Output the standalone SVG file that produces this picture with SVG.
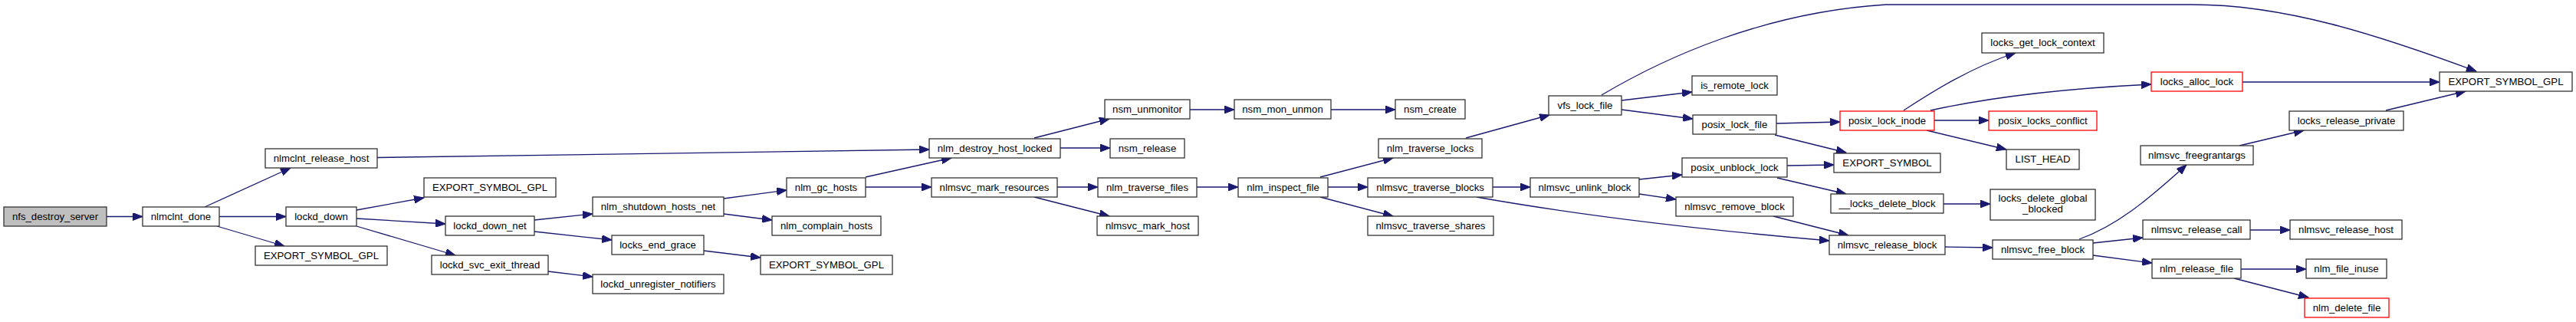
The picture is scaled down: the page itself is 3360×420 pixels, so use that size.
<svg xmlns="http://www.w3.org/2000/svg" width="3360" height="420" viewBox="0 0 3360 420">
<style>
rect{fill:#ffffff;stroke:#333333;stroke-width:1.3}
rect.root{fill:#bfbfbf}
rect.trunc{stroke:#ff0000}
text{font-family:"Liberation Sans",Arial,sans-serif;font-size:13.2px;fill:#000000;text-anchor:middle}
#edges path{fill:none;stroke:#191970;stroke-width:1.3;marker-end:url(#ah)}
</style>
<defs>
<marker id="ah" markerUnits="userSpaceOnUse" markerWidth="14" markerHeight="10" refX="13" refY="5" orient="auto">
<path d="M0,0 L13,5 L0,10 z" fill="#191970" stroke="#191970" stroke-width="1"/>
</marker>
</defs>
<rect x="0" y="0" width="3360" height="420" style="fill:#ffffff;stroke:none"/>
<g id="edges">
<path d="M139,282.5 L186,282.5"/>
<path d="M267,270 L379,219"/>
<path d="M286,282.5 L373,282.5"/>
<path d="M283,295 L371,321"/>
<path d="M492,205.5 C700,203 950,198 1212,195"/>
<path d="M465,274 L553,258"/>
<path d="M465,285 L581,292"/>
<path d="M465,295 L594,333"/>
<path d="M697,287 L773,279"/>
<path d="M697,302 L798,313"/>
<path d="M715,354 L773,361"/>
<path d="M944,259 L1026,248"/>
<path d="M944,279 L1007,287"/>
<path d="M918,327 L992,336"/>
<path d="M1129,231 L1241,206"/>
<path d="M1129,244 L1215,244"/>
<path d="M1349,180 L1447,155"/>
<path d="M1383,193 L1448,193"/>
<path d="M1552,143 L1610,143"/>
<path d="M1736,143 L1820,143"/>
<path d="M1379,244 L1432,244"/>
<path d="M1349,257 L1447,282"/>
<path d="M1561,244 L1615,244"/>
<path d="M1722,231 L1817,206"/>
<path d="M1732,244 L1784,244"/>
<path d="M1722,257 L1817,282"/>
<path d="M1912,180 L2021,150"/>
<path d="M1947,244 L1996,244"/>
<path d="M1926,257 C2050,279 2200,298 2386,314"/>
<path d="M2138,234 L2194,228"/>
<path d="M2138,253 L2186,260"/>
<path d="M2089,124 C2170,76 2300,16 2460,6 L2860,6 C2980,6 3100,45 3230,93"/>
<path d="M2115,131 L2207,120"/>
<path d="M2115,143 L2208,155"/>
<path d="M2317,161 L2400,159"/>
<path d="M2315,176 L2408,199"/>
<path d="M2331,216 L2392,215"/>
<path d="M2318,232 L2408,253"/>
<path d="M2313,282 L2411,307"/>
<path d="M2483,144 C2520,120 2570,88 2629,69"/>
<path d="M2518,144 C2600,126 2700,115 2806,110"/>
<path d="M2523,157 L2594,157"/>
<path d="M2513,170 L2617,195"/>
<path d="M2535,266 L2596,266"/>
<path d="M2537,322 L2599,323"/>
<path d="M2712,312 C2760,295 2800,262 2852,215"/>
<path d="M2730,317 L2795,310"/>
<path d="M2730,333 L2807,343"/>
<path d="M2925,107 L3182,107"/>
<path d="M2921,190 L3005,170"/>
<path d="M3112,144 L3216,119"/>
<path d="M2935,300 L2987,300"/>
<path d="M2923,351 L3008,351"/>
<path d="M2914,363 L3011,388"/>
</g>
<g id="n0"><rect class="root" x="5" y="270" width="134" height="25"/><text x="72" y="287">nfs_destroy_server</text></g>
<g id="n1"><rect x="186" y="270" width="100" height="25"/><text x="236" y="287">nlmclnt_done</text></g>
<g id="n2"><rect x="346" y="194" width="146" height="25"/><text x="419" y="211">nlmclnt_release_host</text></g>
<g id="n3"><rect x="373" y="270" width="92" height="25"/><text x="419" y="287">lockd_down</text></g>
<g id="n4"><rect x="333" y="321" width="172" height="25"/><text x="419" y="338">EXPORT_SYMBOL_GPL</text></g>
<g id="n5"><rect x="553" y="232" width="172" height="25"/><text x="639" y="249">EXPORT_SYMBOL_GPL</text></g>
<g id="n6"><rect x="581" y="282" width="116" height="25"/><text x="639" y="299">lockd_down_net</text></g>
<g id="n7"><rect x="563" y="333" width="152" height="25"/><text x="639" y="350">lockd_svc_exit_thread</text></g>
<g id="n8"><rect x="773" y="257" width="171" height="25"/><text x="858.5" y="274">nlm_shutdown_hosts_net</text></g>
<g id="n9"><rect x="798" y="307" width="120" height="25"/><text x="858" y="324">locks_end_grace</text></g>
<g id="n10"><rect x="773" y="358" width="171" height="25"/><text x="858.5" y="375">lockd_unregister_notifiers</text></g>
<g id="n11"><rect x="1026" y="232" width="103" height="25"/><text x="1077.5" y="249">nlm_gc_hosts</text></g>
<g id="n12"><rect x="1007" y="282" width="142" height="25"/><text x="1078" y="299">nlm_complain_hosts</text></g>
<g id="n13"><rect x="992" y="333" width="172" height="25"/><text x="1078" y="350">EXPORT_SYMBOL_GPL</text></g>
<g id="n14"><rect x="1212" y="181" width="171" height="25"/><text x="1297.5" y="198">nlm_destroy_host_locked</text></g>
<g id="n15"><rect x="1215" y="232" width="164" height="25"/><text x="1297" y="249">nlmsvc_mark_resources</text></g>
<g id="n16"><rect x="1441" y="130" width="111" height="25"/><text x="1496.5" y="147">nsm_unmonitor</text></g>
<g id="n17"><rect x="1448" y="181" width="97" height="25"/><text x="1496.5" y="198">nsm_release</text></g>
<g id="n18"><rect x="1432" y="232" width="129" height="25"/><text x="1496.5" y="249">nlm_traverse_files</text></g>
<g id="n19"><rect x="1431" y="282" width="132" height="25"/><text x="1497" y="299">nlmsvc_mark_host</text></g>
<g id="n20"><rect x="1610" y="130" width="126" height="25"/><text x="1673" y="147">nsm_mon_unmon</text></g>
<g id="n21"><rect x="1615" y="232" width="117" height="25"/><text x="1673.5" y="249">nlm_inspect_file</text></g>
<g id="n22"><rect x="1820" y="130" width="91" height="25"/><text x="1865.5" y="147">nsm_create</text></g>
<g id="n23"><rect x="1798" y="181" width="135" height="25"/><text x="1865.5" y="198">nlm_traverse_locks</text></g>
<g id="n24"><rect x="1784" y="232" width="163" height="25"/><text x="1865.5" y="249">nlmsvc_traverse_blocks</text></g>
<g id="n25"><rect x="1784" y="282" width="164" height="25"/><text x="1866" y="299">nlmsvc_traverse_shares</text></g>
<g id="n26"><rect x="2020" y="125" width="95" height="25"/><text x="2067.5" y="142">vfs_lock_file</text></g>
<g id="n27"><rect x="1996" y="232" width="142" height="25"/><text x="2067" y="249">nlmsvc_unlink_block</text></g>
<g id="n28"><rect x="2207" y="99" width="111" height="25"/><text x="2262.5" y="116">is_remote_lock</text></g>
<g id="n29"><rect x="2208" y="150" width="109" height="25"/><text x="2262.5" y="167">posix_lock_file</text></g>
<g id="n30"><rect x="2194" y="206" width="137" height="25"/><text x="2262.5" y="223">posix_unblock_lock</text></g>
<g id="n31"><rect x="2186" y="257" width="153" height="25"/><text x="2262.5" y="274">nlmsvc_remove_block</text></g>
<g id="n32"><rect class="trunc" x="2400" y="145" width="123" height="25"/><text x="2461.5" y="162">posix_lock_inode</text></g>
<g id="n33"><rect x="2392" y="200" width="139" height="25"/><text x="2461.5" y="217">EXPORT_SYMBOL</text></g>
<g id="n34"><rect x="2388" y="253" width="147" height="25"/><text x="2461.5" y="270">__locks_delete_block</text></g>
<g id="n35"><rect x="2386" y="307" width="151" height="25"/><text x="2461.5" y="324">nlmsvc_release_block</text></g>
<g id="n36"><rect x="2585" y="43" width="159" height="26"/><text x="2664.5" y="60">locks_get_lock_context</text></g>
<g id="n37"><rect class="trunc" x="2594" y="145" width="141" height="25"/><text x="2664.5" y="162">posix_locks_conflict</text></g>
<g id="n38"><rect x="2617" y="195" width="95" height="26"/><text x="2664.5" y="212">LIST_HEAD</text></g>
<g id="n39"><rect x="2596" y="247" width="137" height="40"/><text x="2664.5" y="263">locks_delete_global</text><text x="2664.5" y="277">_blocked</text></g>
<g id="n40"><rect x="2599" y="313" width="131" height="25"/><text x="2664.5" y="330">nlmsvc_free_block</text></g>
<g id="n41"><rect class="trunc" x="2806" y="94" width="119" height="25"/><text x="2865.5" y="111">locks_alloc_lock</text></g>
<g id="n42"><rect x="2792" y="190" width="147" height="25"/><text x="2865.5" y="207">nlmsvc_freegrantargs</text></g>
<g id="n43"><rect x="2795" y="287" width="140" height="25"/><text x="2865" y="304">nlmsvc_release_call</text></g>
<g id="n44"><rect x="2807" y="338" width="116" height="25"/><text x="2865" y="355">nlm_release_file</text></g>
<g id="n45"><rect x="3182" y="94" width="173" height="25"/><text x="3268.5" y="111">EXPORT_SYMBOL_GPL</text></g>
<g id="n46"><rect x="2986" y="145" width="149" height="25"/><text x="3060.5" y="162">locks_release_private</text></g>
<g id="n47"><rect x="2987" y="287" width="146" height="25"/><text x="3060" y="304">nlmsvc_release_host</text></g>
<g id="n48"><rect x="3008" y="338" width="105" height="25"/><text x="3060.5" y="355">nlm_file_inuse</text></g>
<g id="n49"><rect class="trunc" x="3006" y="389" width="110" height="25"/><text x="3061" y="406">nlm_delete_file</text></g>
</svg>
